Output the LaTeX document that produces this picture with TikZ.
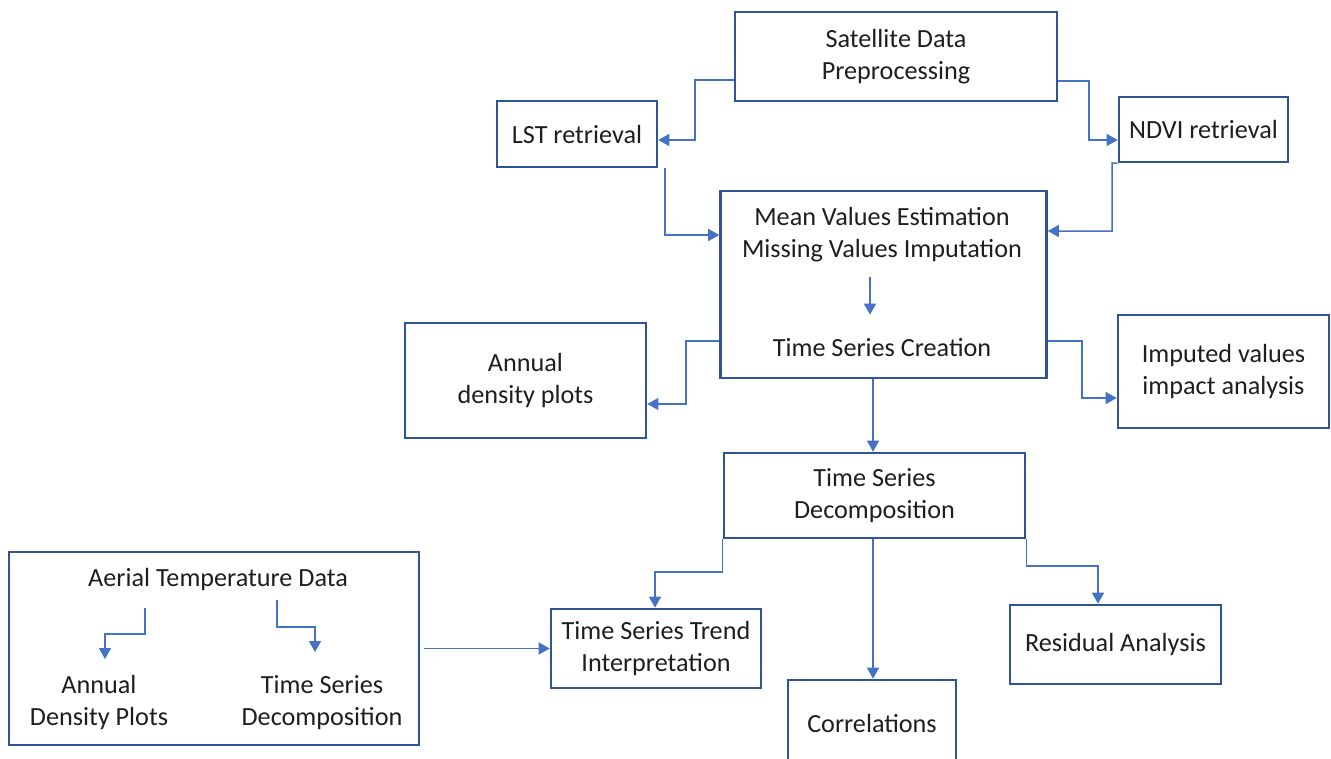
\documentclass[tikz,border=0pt]{standalone}
\usepackage{fontspec}
\setmainfont{Carlito}
\usetikzlibrary{arrows.meta}

\definecolor{boxblue}{HTML}{2F5597}
\definecolor{flowblue}{HTML}{4472C4}
\definecolor{ink}{HTML}{1E1E1E}

\tikzset{every picture/.style={x=1pt,y=-1pt}}
\tikzset{stage/.style={draw=boxblue, line width=2.6pt, text=ink, align=center, inner sep=0pt, font=\fontsize{26.2}{32}\selectfont}}
\tikzset{plain text/.style={text=ink, align=center, inner sep=0pt, font=\fontsize{26.2}{32}\selectfont}}
\tikzset{flow/.style={draw=flowblue, line width=1.5pt, -{Triangle[length=11pt,width=12pt]}}}

\begin{document}
\begin{tikzpicture}
        \useasboundingbox (0,0) rectangle (1331,758);

        % satellite branch
        \node[stage, minimum width=322pt, minimum height=89pt] (sat) at (896,56.5) {Satellite Data\\Preprocessing};
        \node[stage, minimum width=160pt, minimum height=66pt] (lst) at (577,134) {LST retrieval};
        \node[stage, minimum width=169pt, minimum height=65pt] (ndvi) at (1203.5,129.5) {NDVI retrieval};

        % preparation box with its two steps
        \node[stage, minimum width=326pt, minimum height=187pt] (mean) at (883.5,284.5) {};
        \node[plain text] (estim) at (882,235) {Mean Values Estimation\\Missing Values Imputation};
        \node[plain text] (create) at (882,348) {Time Series Creation};

        \node[stage, minimum width=241pt, minimum height=115pt] (annual) at (525.5,380.5) {Annual\\density plots};
        \node[stage, minimum width=211pt, minimum height=113pt] (imputed) at (1223.5,371.5) {Imputed values\\impact analysis};
        \node[stage, minimum width=301pt, minimum height=85pt] (decomp) at (874.5,495.5) {Time Series\\Decomposition};

        % aerial data box
        \node[stage, minimum width=410pt, minimum height=193pt] (aerial) at (214,648.5) {};
        \node[plain text] (aertitle) at (218,580) {Aerial Temperature Data};
        \node[plain text] (aerdens) at (99,703) {Annual\\Density Plots};
        \node[plain text] (aerdec) at (322,703) {Time Series\\Decomposition};
        \coordinate (densfrom) at (145,608);
        \coordinate (densto) at (105,659);
        \coordinate (decfrom) at (277,600);
        \coordinate (decto) at (315,652);

        % results
        \node[stage, minimum width=210pt, minimum height=79pt] (trend) at (656,648.5) {Time Series Trend\\Interpretation};
        \node[stage, minimum width=168pt, minimum height=86pt] (corr) at (872,723) {Correlations};
        \node[stage, minimum width=211pt, minimum height=79pt] (resid) at (1115.5,644.5) {Residual Analysis};

        % connectors
        \draw[flow] (sat.west |- 0,80) -- (695,80) |- (lst.east |- 0,140);
        \draw[flow] (sat.east |- 0,81) -- (1089,81) |- (ndvi.west |- 0,140);
        \draw[flow] (lst.south -| 665,0) |- (mean.west |- 0,235);
        \draw[flow] (ndvi.south west) -- (1112,163) |- (mean.east |- 0,231);
        \draw[flow, shorten <=14pt, shorten >=24pt] (estim.south -| 870,0) -- (create.north -| 870,0);
        \draw[flow] (mean.west |- 0,341) -- (686,341) |- (annual.east |- 0,404);
        \draw[flow] (mean.east |- 0,341) -- (1082,341) |- (imputed.west |- 0,398);
        \draw[flow] (mean.south -| 873,0) -- (decomp.north -| 873,0);
        \draw[flow] (decomp.south west) |- (655,572) -- (trend.north -| 655,0);
        \draw[flow] (decomp.south -| 873,0) -- (corr.north -| 873,0);
        \draw[flow] (decomp.south east) |- (1098,566) -- (resid.north -| 1098,0);
        \draw[flow] ([xshift=4pt]aerial.east) -- (trend.west);
        \draw[flow] (densfrom) |- (105,634) -- (densto);
        \draw[flow] (decfrom) |- (315,627) -- (decto);
\end{tikzpicture}
\end{document}
